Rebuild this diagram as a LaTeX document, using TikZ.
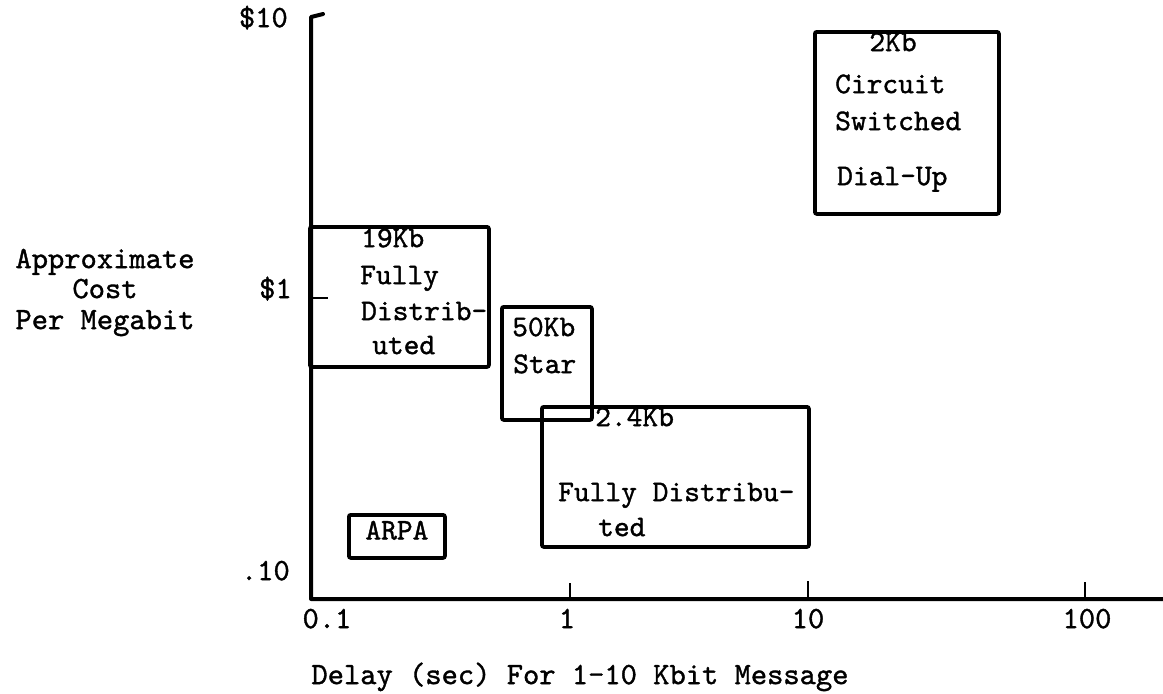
\documentclass[tikz,border=0pt]{standalone}
\usepackage{fontspec}
\newfontfamily\typewriter{lmmono10-regular.otf}[FakeBold=1.2]
\begin{document}
\begin{tikzpicture}[x=1pt,y=-1pt,
  axis/.style={line width=4pt,line cap=round,line join=round},
  tickmark/.style={line width=2.5pt},
  plotbox/.style={draw,line width=3.8pt,rounded corners=2pt,inner sep=0pt,anchor=north west},
  txt/.style={font=\typewriter\fontsize{30}{34}\selectfont,inner sep=0pt,text height=0.62em,text depth=0pt},
  lbl/.style={txt,font=\typewriter\fontsize{31}{35}\selectfont}]
\useasboundingbox (0,0) rectangle (1163,694);

% axes
\coordinate (hook) at (323,14);
\coordinate (top) at (311,17);
\coordinate (origin) at (311,599);
\coordinate (xend) at (1163,599);
\draw[axis] (hook) -- (top) -- (origin) -- (xend);

% tick marks
\coordinate (t1) at (570,599);
\coordinate (t10) at (808,599);
\coordinate (t100) at (1085,599);
\coordinate (ty1) at (311,298);
\draw[tickmark] (t1) -- ++(0,-16);
\draw[tickmark] (t10) -- ++(0,-18);
\draw[tickmark] (t100) -- ++(0,-17);
\draw[tickmark] (ty1) -- ++(17,0);

% y axis labels
\node[lbl,anchor=east] (c10) at (288,24) {\$10};
\node[lbl,anchor=east] (c1) at (292,295) {\$1};
\node[lbl,anchor=east] (c01) at (290,577) {.10};
\node[lbl] (ylab1) at (105,265) {Approximate};
\node[lbl] (ylab2) at (105,295) {Cost};
\node[lbl] (ylab3) at (105,326) {Per Megabit};

% x axis labels
\node[lbl] (d01) at (327,625) {0.1};
\node[lbl] (d1) at (567,625) {1};
\node[lbl] (d10) at (808,625) {10};
\node[lbl] (d100) at (1087,625) {100};
\node[lbl] (xlab) at (580,681) {Delay (sec) For 1-10 Kbit Message};

% 19Kb fully distributed
\node[plotbox,minimum width=179pt,minimum height=140pt] (b19) at (308,225) {};
\node[txt,anchor=west] (b19a) at (361,244) {19Kb};
\node[txt,anchor=west] (b19b) at (360,281) {Fully};
\node[txt,anchor=west] (b19c) at (361,317) {Distrib-};
\node[txt,anchor=west] (b19d) at (372,351) {uted};

% 50Kb star
\node[plotbox,minimum width=90pt,minimum height=113pt] (b50) at (500,305) {};
\node[txt,anchor=west] (b50a) at (512,333) {50Kb};
\node[txt,anchor=west] (b50b) at (513,370) {Star};

% 2.4Kb fully distributed
\node[plotbox,minimum width=267pt,minimum height=140pt] (b24) at (540,405) {};
\node[txt,anchor=west] (b24a) at (595,423) {2.4Kb};
\node[txt,anchor=west] (b24b) at (558,498) {Fully Distribu-};
\node[txt,anchor=west] (b24c) at (598,533) {ted};

% 2Kb circuit switched
\node[plotbox,minimum width=184pt,minimum height=182pt] (b2) at (813,30) {};
\node[txt] (b2a) at (893,48) {2Kb};
\node[txt,anchor=west] (b2b) at (835,90) {Circuit};
\node[txt,anchor=west] (b2c) at (835,127) {Switched};
\node[txt,anchor=west] (b2d) at (837,182) {Dial-Up};

% ARPA
\node[plotbox,minimum width=96pt,minimum height=43pt] (arpa) at (347,513) {};
\node[txt] (arpat) at (arpa.center) {ARPA};
\end{tikzpicture}
\end{document}
